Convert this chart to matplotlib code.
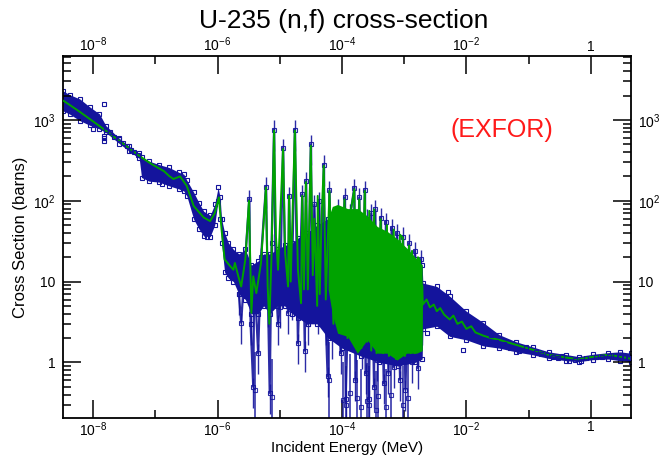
import math
import matplotlib
matplotlib.use("Agg")
import matplotlib.pyplot as plt
from matplotlib.ticker import FixedLocator, LogLocator, NullFormatter, FuncFormatter

plt.rcParams['font.family'] = ['Liberation Sans', 'DejaVu Sans']
plt.rcParams['mathtext.default'] = 'regular'

# evaluated curve (green), energy in MeV, cross section in barns
eval_E = [3.37e-9, 6.1e-9, 1.26e-8, 2.64e-8, 5.5e-8, 8.7e-8, 1.38e-7, 1.66e-7, 1.95e-7, 2.5e-7,
          3.2e-7, 4.14e-7, 6.0e-7, 7.6e-7, 9.0e-7, 1.05e-6, 1.16e-6, 1.3e-6, 1.6e-6, 1.8e-6,
          1.9e-6, 2.16e-6, 2.4e-6, 2.8e-6, 3.2e-6, 3.5e-6, 3.75e-6, 4.2e-6, 5.0e-6, 6.0e-6,
          6.4e-6, 6.8e-6, 7.4e-6, 8.1e-6, 8.7e-6, 9.4e-6, 1.13e-5, 1.22e-5, 1.36e-5, 1.41e-5,
          1.5e-5, 1.75e-5, 1.96e-5, 2.2e-5, 2.3e-5, 2.45e-5, 2.63e-5, 2.83e-5, 3.16e-5, 3.4e-5,
          3.6e-5, 4.0e-5, 4.08e-5, 4.4e-5, 4.7e-5, 5.1e-5, 5.5e-5, 6.3e-5, 7.3e-5, 8.5e-5,
          9.5e-5, 1.1e-4, 1.23e-4, 1.37e-4, 1.58e-4, 1.7e-4, 1.9e-4, 2.06e-4, 2.33e-4, 2.55e-4,
          2.75e-4, 2.96e-4, 3.3e-4, 3.6e-4, 4.2e-4, 4.6e-4, 5.3e-4, 5.7e-4, 6.8e-4, 7.4e-4,
          8.6e-4, 9.5e-4, 1.03e-3, 1.2e-3, 1.28e-3, 1.34e-3, 1.49e-3, 1.67e-3, 1.8e-3, 1.88e-3,
          1.95e-3, 2.0e-3, 2.3e-3, 2.6e-3, 3.0e-3, 3.35e-3, 3.8e-3, 4.4e-3, 5.4e-3, 6.2e-3,
          7.2e-3, 8.5e-3, 1.0e-2, 1.2e-2, 1.4e-2, 1.88e-2, 2.5e-2, 3.39e-2, 6.3e-2, 0.118,
          0.212, 0.396, 0.64, 1.07, 1.92, 2.99, 4.4]
eval_sig = [1720, 1260, 842, 550, 360, 284, 232, 203, 186, 200,
            153, 86, 62, 56, 70, 110, 44, 18.8, 15.5, 14,
            17, 11.6, 8.7, 18.8, 100, 4.1, 11.6, 7.2, 17, 146,
            8.7, 3.0, 22.7, 736, 36, 14, 436, 22.7, 8.7, 115,
            10, 736, 14, 5.4, 115, 8, 170, 8, 480, 12,
            60, 5, 115, 7, 60, 271, 6, 132, 3, 78,
            2.3, 104, 2, 70, 139, 1.6, 104, 1.5, 132, 1.8,
            75, 1.4, 78, 1.3, 59, 1.3, 50, 1.2, 44, 1.1,
            38, 35, 1.2, 28, 1.3, 24, 1.3, 20, 18, 1.4,
            9, 5.2, 6.0, 4.8, 5.2, 4.3, 4.7, 3.9, 3.4, 3.8,
            3.0, 3.2, 2.6, 2.8, 2.35, 2.14, 2.0, 1.9, 1.65, 1.43,
            1.24, 1.15, 1.09, 1.17, 1.24, 1.18, 1.11]

# unresolved mass of green in the dense resonance region
dense_E = [6.0e-5, 7.0e-5, 8.5e-5, 1.23e-4, 1.77e-4, 2.55e-4, 3.7e-4, 5.3e-4, 7.7e-4, 1.1e-3, 1.6e-3, 1.95e-3]
dense_hi = [60, 85, 90, 80, 80, 65, 48, 42, 34, 26, 19, 16]
dense_lo = [8, 4, 2.3, 2.1, 1.3, 1.9, 1.3, 1.3, 1.07, 1.3, 1.3, 1.4]

# spread of the EXFOR points (blue band)
band_E = [3.24e-9, 4.2e-9, 6.1e-9, 8.8e-9, 1.26e-8, 1.6e-8, 2.64e-8, 3.81e-8, 5.5e-8, 6.0e-8,
          7.9e-8, 1.15e-7, 1.66e-7, 2.39e-7, 2.87e-7, 3.2e-7, 4.14e-7, 5.0e-7, 6.0e-7, 7.6e-7,
          9.0e-7, 1.02e-6, 1.1e-6, 1.16e-6, 1.3e-6, 1.5e-6, 1.8e-6, 2.2e-6, 2.8e-6, 3.5e-6,
          4.5e-6, 5.5e-6, 7.0e-6, 9.0e-6, 1.2e-5, 1.6e-5, 2.0e-5, 2.8e-5, 4.0e-5, 6.0e-5,
          1.0e-4, 2.0e-4, 4.0e-4, 8.0e-4, 1.5e-3, 1.95e-3, 2.0e-3, 3.35e-3, 5.4e-3, 1.0e-2,
          1.88e-2, 3.39e-2, 6.3e-2, 0.118, 0.212, 0.4, 0.64, 1.07, 1.92, 2.99, 4.4]
band_lo = [1300, 1180, 980, 860, 773, 700, 510, 410, 335, 194,
           175, 170, 153, 140, 132, 115, 59, 45, 36.5, 36,
           50, 100, 60, 30, 13, 11, 10, 7, 6, 4,
           4, 5, 4, 5, 5, 4, 3.5, 3, 3, 2,
           1.5, 1.2, 1.0, 0.9, 1.0, 1.1, 2.6, 2.8, 2.1, 1.9,
           1.6, 1.5, 1.35, 1.24, 1.12, 1.05, 1.02, 1.08, 1.1, 1.05, 1.02]
band_hi = [2300, 2050, 1820, 1450, 1190, 850, 590, 470, 385, 345,
           310, 280, 258, 225, 213, 180, 127, 95, 74, 66,
           90, 146, 110, 60, 40, 30, 25, 22, 25, 16,
           18, 22, 22, 25, 28, 30, 35, 40, 50, 60,
           65, 60, 42, 30, 19, 16, 9.6, 8.7, 6.6, 4.3,
           3.1, 2.2, 1.8, 1.55, 1.35, 1.25, 1.18, 1.26, 1.32, 1.35, 1.3]

# EXFOR points through the resonances
exp_res_E = [2.2e-6, 2.4e-6, 2.8e-6, 3.24e-6, 3.4e-6, 3.75e-6, 3.9e-6, 4.5e-6, 5.0e-6, 6.0e-6,
             6.5e-6, 6.9e-6, 7.4e-6, 8.1e-6, 8.6e-6, 9.4e-6, 1.0e-5, 1.13e-5, 1.22e-5, 1.36e-5,
             1.41e-5, 1.55e-5, 1.75e-5, 1.96e-5, 2.3e-5, 2.53e-5, 2.65e-5, 2.83e-5, 3.16e-5, 3.4e-5,
             3.6e-5, 4.08e-5, 4.3e-5, 4.7e-5, 5.1e-5, 5.5e-5, 5.89e-5, 6.3e-5, 7.0e-5, 8.5e-5,
             9.5e-5, 1.1e-4, 1.15e-4, 1.37e-4, 1.58e-4, 1.65e-4, 1.9e-4, 2.1e-4, 2.33e-4, 2.4e-4,
             2.55e-4, 2.72e-4, 2.96e-4, 3.28e-4, 3.43e-4, 3.7e-4, 4.2e-4, 4.7e-4, 5.1e-4, 5.6e-4,
             6.3e-4, 6.8e-4, 7.7e-4, 8.6e-4, 9.6e-4, 1.05e-3, 1.2e-3, 1.34e-3, 1.49e-3, 1.67e-3,
             1.86e-3, 1.95e-3]
exp_res_sig = [7, 3.1, 20, 105, 3.0, 0.5, 12, 1.3, 20, 150,
               5, 0.42, 30, 760, 10, 3, 4.9, 450, 15, 4.1,
               115, 6, 760, 1.74, 120, 1.4, 175, 3, 500, 6,
               90, 4.1, 100, 5, 280, 3, 0.67, 135, 2, 80,
               1.3, 110, 0.35, 70, 145, 0.6, 110, 1.5, 135, 0.73,
               60, 0.35, 70, 0.5, 78, 1.07, 62, 0.55, 55, 0.74,
               46, 0.88, 40, 0.61, 36, 0.46, 30, 1.0, 24, 0.85,
               19, 3]

# points whose lower error bar runs off the bottom of the plot
deep_E = [3.95e-6, 7.5e-6, 6.2e-5, 1.04e-4, 1.17e-4, 1.35e-4, 1.73e-4, 2.03e-4,
          2.55e-4, 2.77e-4, 3.5e-4, 3.84e-4, 5.1e-4, 6.1e-4, 9.5e-4, 1.14e-3]
deep_sig = [0.45, 0.37, 0.6, 0.34, 0.3, 0.42, 0.36, 0.28,
            0.33, 0.3, 0.26, 0.38, 0.28, 0.4, 0.3, 0.36]

# scattered single EXFOR points
exp_E = [1.0e-8, 1.47e-8, 1.47e-8, 1.47e-8, 1.47e-8, 1.6e-8, 1.9e-8, 2.2e-8, 2.6e-8, 3.0e-8,
         3.5e-8, 4.0e-8, 4.6e-8, 5.3e-8, 1.29e-7, 6.7e-7, 6.7e-7, 2.3e-3, 5.1e-3, 5.1e-3,
         8.9e-3, 0.015, 0.02, 0.025, 0.03, 0.04, 0.05, 0.07, 0.09, 0.13,
         0.16, 0.2, 0.25, 0.3, 0.35, 0.45, 0.55, 0.7, 0.85, 1.2,
         1.5, 2.0, 2.5, 3.0, 3.5, 4.0]
exp_sig = [773, 1580, 640, 590, 550, 760, 700, 620, 580, 520,
           470, 430, 400, 370, 160, 36, 40, 2.3, 7.4, 6.0,
           1.43, 2.8, 2.5, 2.2, 1.8, 1.7, 1.5, 1.38, 1.55, 1.35,
           1.28, 1.22, 1.15, 1.12, 1.2, 1.05, 1.08, 1.05, 1.12, 1.15,
           1.17, 1.2, 1.22, 1.15, 1.18, 1.12]

blue = '#14149c'
green = '#00a300'

fig = plt.figure(figsize=(6.63, 4.55), dpi=100)
ax = fig.add_axes([0.0946, 0.0813, 0.8567, 0.7957])

# blue experimental data
ax.fill_between(band_E, band_lo, band_hi, color=blue, lw=0, zorder=1)
ax.plot(band_E, band_hi, 's', mfc='none', mec=blue, ms=3.2, mew=0.8, zorder=1)
ax.plot(band_E, band_lo, 's', mfc='none', mec=blue, ms=3.2, mew=0.8, zorder=1)
ax.errorbar(exp_res_E, exp_res_sig,
            yerr=[[s * 0.45 for s in exp_res_sig], [s * 0.3 for s in exp_res_sig]],
            fmt='s-', color=blue, mfc='none', mec=blue, ms=3.2, mew=0.8, lw=1.6,
            elinewidth=1.0, alpha=0.9, zorder=2)
ax.errorbar(deep_E, deep_sig, yerr=[[s * 0.8 for s in deep_sig], [s * 2 for s in deep_sig]],
            fmt='s', color=blue, mfc='none', mec=blue, ms=3.2, mew=0.8,
            elinewidth=1.2, alpha=0.85, zorder=2)
ax.plot(exp_E, exp_sig, 's', mfc='none', mec=blue, ms=3.2, mew=0.8, zorder=5)

# green evaluation
ax.fill_between(dense_E, dense_lo, dense_hi, color=green, lw=0, zorder=3)
ax.plot(eval_E, eval_sig, color=green, lw=1.4, zorder=4)

ax.set_xscale('log')
ax.set_yscale('log')
ax.set_xlim(3.24e-9, 4.4)
ax.set_ylim(0.205, 6190)


def dec_fmt(v, pos):
    p = int(round(math.log10(v)))
    if p == 0:
        return '1'
    if p == 1:
        return '10'
    return r'$10^{%d}$' % p


ax.xaxis.set_major_locator(FixedLocator([1e-8, 1e-6, 1e-4, 1e-2, 1]))
ax.xaxis.set_minor_locator(FixedLocator([1e-7, 1e-5, 1e-3, 1e-1]))
ax.xaxis.set_major_formatter(FuncFormatter(dec_fmt))
ax.xaxis.set_minor_formatter(NullFormatter())
ax.yaxis.set_major_locator(LogLocator(base=10))
ax.yaxis.set_minor_locator(LogLocator(base=10, subs=range(2, 10)))
ax.yaxis.set_major_formatter(FuncFormatter(dec_fmt))
ax.yaxis.set_minor_formatter(NullFormatter())

ax.tick_params(which='both', direction='in', top=True, right=True,
               labeltop=True, labelright=True, labelsize=10, width=1.1, color='black')
ax.tick_params(which='major', length=13)
ax.tick_params(which='minor', length=6)
ax.tick_params(axis='x', which='both', pad=1.5)
ax.tick_params(axis='y', which='both', pad=5)
for sp in ax.spines.values():
    sp.set_linewidth(1.3)

ax.set_xlabel('Incident Energy (MeV)', fontsize=11)
ax.set_ylabel('Cross Section (barns)', fontsize=12)
ax.xaxis.set_label_coords(0.5, -0.064)
ax.yaxis.set_label_coords(-0.062, 0.5)

ax.text(0.773, 0.796, '(EXFOR)', transform=ax.transAxes, color='#ff1a1a',
        fontsize=18, ha='center', va='center')
fig.text(0.518, 0.953, 'U-235 (n,f) cross-section', fontsize=19, ha='center', va='center')

fig.savefig('out.png', dpi=100)
